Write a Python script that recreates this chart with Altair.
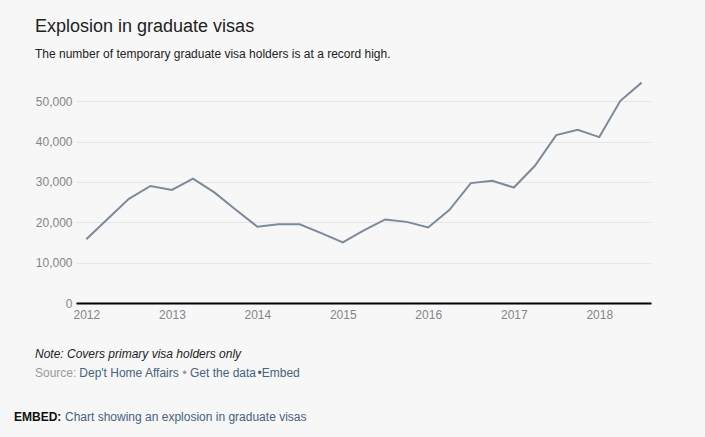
import altair as alt
import pandas as pd

# ---- data ----
quarters = [
    "2012-01-01", "2012-04-01", "2012-07-01", "2012-10-01",
    "2013-01-01", "2013-04-01", "2013-07-01", "2013-10-01",
    "2014-01-01", "2014-04-01", "2014-07-01", "2014-10-01",
    "2015-01-01", "2015-04-01", "2015-07-01", "2015-10-01",
    "2016-01-01", "2016-04-01", "2016-07-01", "2016-10-01",
    "2017-01-01", "2017-04-01", "2017-07-01", "2017-10-01",
    "2018-01-01", "2018-04-01", "2018-07-01",
]
visa_holders = [
    15800, 20800, 25800, 29000,
    28000, 30800, 27400, 23100,
    18900, 19500, 19500, 17300,
    15000, 18000, 20700, 20100,
    18700, 23100, 29700, 30300,
    28600, 34000, 41600, 42900,
    41100, 50100, 54600,
]
y_ticks = [0, 10000, 20000, 30000, 40000, 50000]
x_ticks = ["2012-01-01", "2013-01-01", "2014-01-01", "2015-01-01",
           "2016-01-01", "2017-01-01", "2018-01-01"]

df = pd.DataFrame({"date": pd.to_datetime(quarters), "holders": visa_holders})

FONT = "Liberation Sans"
BLUE = "#46627f"

line = alt.Chart(df).mark_line(color="#7b8b9a", strokeWidth=2).encode(
    x=alt.X(
        "date:T",
        scale=alt.Scale(domain=["2011-11-18", "2018-08-10"]),
        axis=alt.Axis(
            title=None, format="%Y", values=[pd.Timestamp(v).isoformat() for v in x_ticks],
            grid=False, ticks=False, domain=True, domainColor="#000000",
            domainWidth=2, labelColor="#858585", labelFontSize=12,
            labelFont=FONT, labelPadding=6, labelFlush=False,
        ),
    ),
    y=alt.Y(
        "holders:Q",
        scale=alt.Scale(domain=[0, 55000], nice=False),
        axis=alt.Axis(
            title=None, values=y_ticks, format=",d", grid=True,
            gridColor="#e6e6e6", gridWidth=1, ticks=False, domain=False,
            labelColor="#858585", labelFontSize=12, labelFont=FONT,
            labelPadding=4,
        ),
    ),
)

one = pd.DataFrame({"k": [0]})


def txt(s, x, y, size=12, color="#222222", style="normal", weight="normal"):
    return alt.Chart(one).mark_text(
        text=s, align="left", baseline="alphabetic", font=FONT,
        fontSize=size, color=color, fontStyle=style, fontWeight=weight,
    ).encode(x=alt.value(x), y=alt.value(y))


texts = [
    txt("Explosion in graduate visas", -41, -49, size=18, color="#222222"),
    txt("The number of temporary graduate visa holders is at a record high.", -41, -23.5, size=12),
    txt("Note: Covers primary visa holders only", -41, 276.5, size=12, style="italic"),
    txt("Source:", -41, 295.5, size=12, color="#999999"),
    txt("Dep't Home Affairs", 3.3, 295.5, size=12, color=BLUE),
    txt("•", 106.5, 295.5, size=12, color="#999999"),
    txt("Get the data", 114, 295.5, size=12, color=BLUE),
    txt("•Embed", 181.5, 295.5, size=12, color=BLUE),
    txt("EMBED:", -62, 340, size=12, color="#111111", weight="bold"),
    txt("Chart showing an explosion in graduate visas", -11, 340, size=12, color=BLUE),
]

chart = alt.layer(line, *texts).properties(
    width=575, height=222,
    autosize=alt.AutoSizeParams(type="none"),
    padding={"left": 76, "top": 81, "right": 54, "bottom": 134},
    background="#f7f7f8",
).configure_view(stroke=None)

chart.save("out.html", embed_options={"renderer": "svg", "actions": False})
